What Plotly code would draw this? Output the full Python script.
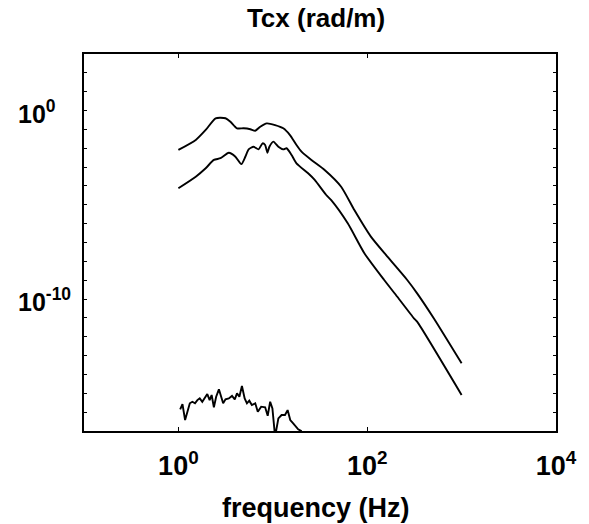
import numpy as np
import plotly.graph_objects as go

# log10(frequency in Hz) and log10(Tcx in rad/m)
upper_log_freq = [0.0, 0.184, 0.289, 0.394, 0.499, 0.551, 0.621, 0.691, 0.762, 0.814,
                  0.867, 0.936, 1.024, 1.111, 1.182, 1.251, 1.304, 1.409, 1.549, 1.724,
                  1.864, 2.039, 2.214, 2.424, 2.529, 2.705, 3.0]
upper_log_tcx = [-2.09, -1.56, -1.03, -0.41, -0.41, -0.59, -0.94, -0.94, -0.99, -1.07,
                 -0.86, -0.68, -0.77, -0.94, -1.30, -1.83, -2.18, -2.62, -3.15, -4.04,
                 -5.28, -6.69, -7.75, -8.99, -9.70, -11.02, -13.41]

lower_log_freq = [0.0, 0.184, 0.289, 0.376, 0.446, 0.534, 0.604, 0.667, 0.709, 0.744,
                  0.796, 0.849, 0.891, 0.919, 0.943, 0.964, 1.006, 1.059, 1.111, 1.146,
                  1.199, 1.251, 1.374, 1.444, 1.566, 1.619, 1.794, 1.970, 2.180, 2.319,
                  2.495, 2.529, 3.0]
lower_log_tcx = [-4.12, -3.51, -3.06, -2.62, -2.53, -2.24, -2.45, -2.84, -2.45, -2.06,
                 -1.92, -2.06, -1.74, -1.83, -2.24, -1.92, -1.65, -1.92, -2.06, -2.00,
                 -2.36, -2.80, -3.33, -3.68, -4.48, -4.75, -5.98, -7.57, -8.99, -9.88,
                 -11.02, -11.20, -15.09]

noise_log_freq = [0.019, 0.043, 0.071, 0.096, 0.121, 0.148, 0.176, 0.201, 0.226, 0.253,
                  0.282, 0.306, 0.331, 0.352, 0.376, 0.400, 0.429, 0.453, 0.474, 0.499,
                  0.534, 0.568, 0.597, 0.621, 0.646, 0.673, 0.702, 0.726, 0.751, 0.778,
                  0.814, 0.841, 0.877, 0.919, 0.946, 0.972, 0.996, 1.024, 1.059, 1.093,
                  1.129, 1.157, 1.185, 1.216, 1.269, 1.300, 1.330]
noise_log_tcx = [-15.85, -15.57, -16.42, -16.03, -15.53, -15.45, -15.53, -15.36, -15.27, -15.45,
                 -15.18, -15.04, -15.36, -15.09, -15.74, -15.18, -14.79, -15.27, -15.53, -15.32,
                 -15.27, -15.14, -15.32, -15.00, -15.18, -14.61, -15.27, -15.53, -15.39, -15.62,
                 -15.53, -15.98, -15.71, -15.74, -16.19, -15.45, -15.80, -17.30, -16.33, -16.15,
                 -16.15, -15.89, -16.42, -16.59, -16.91, -17.00, -17.40]

x_tick_exp = [0, 2, 4]
y_tick_exp = list(range(-17, 4))
y_label_exp = [0, -10]

font_family = "Liberation Sans, Arial, Helvetica, sans-serif"

fig = go.Figure()
for lf, lv, shape in [(upper_log_freq, upper_log_tcx, "spline"),
                      (lower_log_freq, lower_log_tcx, "spline"),
                      (noise_log_freq, noise_log_tcx, "linear")]:
    fig.add_trace(go.Scatter(
        x=np.power(10.0, lf), y=np.power(10.0, lv), mode="lines",
        line=dict(color="black", width=1.9, shape=shape, smoothing=0.6),
        showlegend=False, hoverinfo="skip"))

fig.update_layout(
    width=589, height=524,
    margin=dict(l=84, r=29, t=54, b=93),
    paper_bgcolor="white", plot_bgcolor="white",
    title=dict(text="Tcx (rad/m)", x=(318 - 84) / 476, xref="paper", y=1 - 18 / 524,
               yref="container", xanchor="center", yanchor="middle",
               font=dict(family=font_family, size=26, color="black", weight="bold")),
    font=dict(family=font_family, color="black"),
)

fig.update_xaxes(
    type="log", range=[-1, 4],
    tickvals=[10.0 ** e for e in x_tick_exp],
    ticktext=[f"10<sup>{e}</sup>" for e in x_tick_exp],
    tickfont=dict(family=font_family, size=27, color="black", weight="bold"),
    ticks="inside", ticklen=4, tickwidth=1.2, tickcolor="black",
    showline=True, linecolor="black", linewidth=2, mirror="allticks",
    showgrid=False, zeroline=False, ticklabelstandoff=10,
)
fig.update_yaxes(
    type="log", range=[-17, 3],
    tickvals=[10.0 ** e for e in y_tick_exp],
    showticklabels=False,
    ticks="inside", ticklen=3, tickwidth=1.2, tickcolor="black",
    showline=True, linecolor="black", linewidth=1.6, mirror="allticks",
    showgrid=False, zeroline=False,
)

# y tick labels: left-aligned, like the reference (base "10" aligned, exponent sticking out)
for e in y_label_exp:
    fig.add_annotation(
        text=f"10<sup>{e}</sup>", xref="paper", yref="y",
        x=(15 - 84) / 476, y=e, xanchor="left", yanchor="middle", yshift=-1,
        showarrow=False,
        font=dict(family=font_family, size=25, color="black", weight="bold"),
    )

fig.add_annotation(
    text="frequency (Hz)", xref="paper", yref="paper",
    x=(318 - 84) / 476, y=(431 - 508) / 377, xanchor="center", yanchor="middle",
    showarrow=False,
    font=dict(family=font_family, size=27, color="black", weight="bold"),
)

fig.write_html("out.html")
